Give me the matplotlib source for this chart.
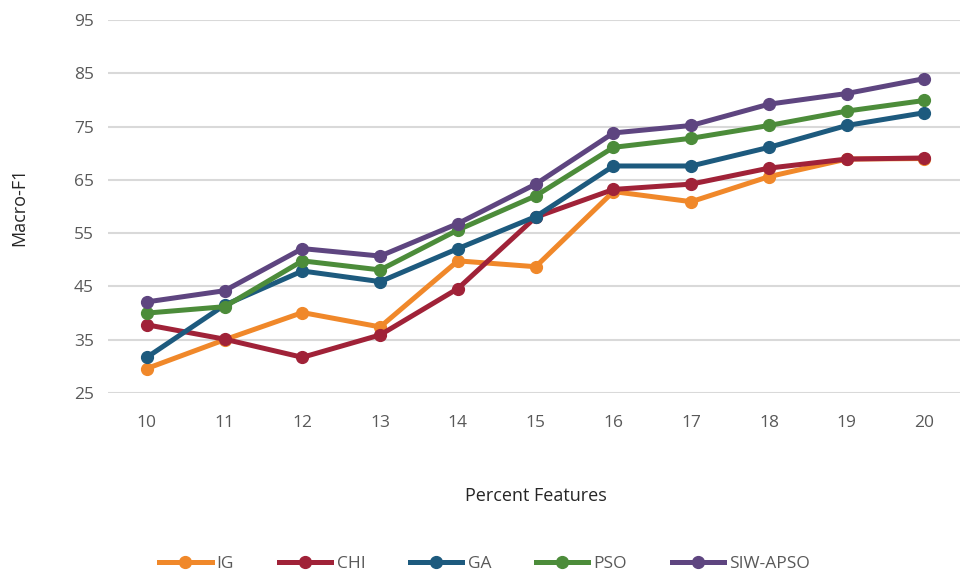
import matplotlib.pyplot as plt

plt.rcParams['font.family'] = ['Open Sans', 'DejaVu Sans']

features = [10, 11, 12, 13, 14, 15, 16, 17, 18, 19, 20]
ig = [29.6, 35.0, 40.1, 37.4, 49.8, 48.7, 62.8, 60.9, 65.6, 68.9, 69.0]
chi = [37.8, 35.1, 31.7, 35.9, 44.6, 58.0, 63.2, 64.2, 67.2, 68.9, 69.1]
ga = [31.7, 41.5, 47.9, 45.9, 52.1, 58.1, 67.6, 67.6, 71.1, 75.2, 77.6]
pso = [40.0, 41.2, 49.8, 48.1, 55.6, 62.0, 71.1, 72.8, 75.2, 77.9, 79.9]
siw_apso = [42.1, 44.2, 52.1, 50.7, 56.8, 64.2, 73.8, 75.2, 79.2, 81.2, 84.0]

series = [
    ('IG', ig, '#F0882A'),
    ('CHI', chi, '#A02238'),
    ('GA', ga, '#1D5A7E'),
    ('PSO', pso, '#4C8C3A'),
    ('SIW-APSO', siw_apso, '#5E4580'),
]

text_color = '#595959'

fig = plt.figure(figsize=(9.6, 5.82), dpi=100)
ax = fig.add_axes([0.1125, 0.3247, 0.891, 0.641])

for name, vals, color in series:
    ax.plot(features, vals, color=color, linewidth=3.6, marker='o',
            markersize=8.5, label=name)

ax.set_xlim(9.5, 20.5)
ax.set_ylim(25, 95)
ax.set_xticks(features)
ax.set_yticks(range(25, 96, 10))
ax.grid(axis='y', color='#D9D9D9', linewidth=1.5)
ax.set_axisbelow(True)
for s in ax.spines.values():
    s.set_visible(False)
ax.tick_params(length=0, labelsize=12.5, colors=text_color, pad=10)
ax.tick_params(axis='x', pad=16)

ax.set_xlabel('Percent Features', fontsize=13, color='#262626', labelpad=40)
ax.set_ylabel('Macro-F1', fontsize=13, color='#262626', labelpad=33)

fig.legend(loc='lower center', bbox_to_anchor=(0.505, -0.01), ncol=5,
           frameon=False, fontsize=12.5, handlelength=3.0, columnspacing=2.6,
           handletextpad=0.3, labelcolor=text_color)

fig.savefig('out.png', dpi=100)
